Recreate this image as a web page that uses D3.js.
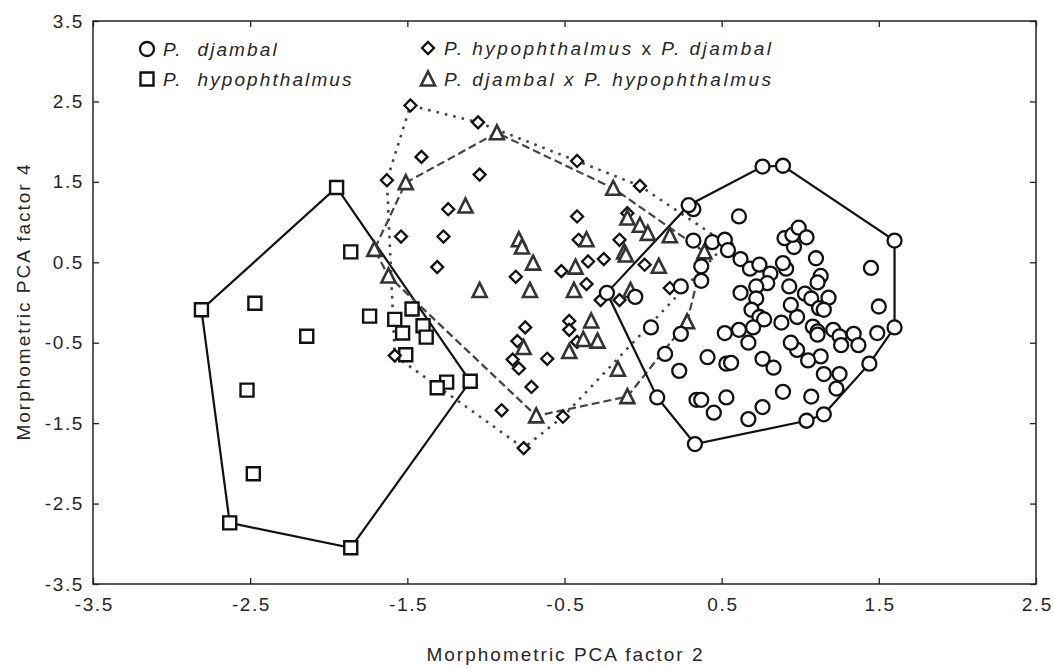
<!DOCTYPE html>
<html lang="en">
<head>
<meta charset="UTF-8">
<title>Morphometric PCA scatter</title>
<script src="https://d3js.org/d3.v7.min.js"></script>
<style>
    body { margin: 0; background: #fff; overflow: hidden; }
    svg { display: block; }
    text { font-family: "Liberation Sans", Arial, sans-serif; fill: #262626; }
</style>
</head>
<body>
<script>
    // Axis ticks
    const xTicks = [-3.5, -2.5, -1.5, -0.5, 0.5, 1.5, 2.5];
    const xTickLabels = ["-3.5", "-2.5", "-1.5", "-0.5", "0.5", "1.5", "2.5"];
    const yTicks = [-3.5, -2.5, -1.5, -0.5, 0.5, 1.5, 2.5, 3.5];
    const yTickLabels = ["-3.5", "-2.5", "-1.5", "-0.5", "0.5", "1.5", "2.5", "3.5"];

    // P. djambal (circles)
    const djambal = [
        [0.76, 1.69], [0.89, 1.70], [1.60, 0.77], [1.60, -0.31], [1.49, -0.38], [1.44, -0.76],
        [1.23, -1.07], [1.15, -1.39], [1.04, -1.47], [0.33, -1.76], [0.09, -1.18], [-0.23, 0.12],
        [0.32, 1.16], [0.29, 1.21], [0.61, 1.07], [0.32, 0.77], [0.44, 0.75], [0.52, 0.78],
        [0.54, 0.65], [0.62, 0.54], [0.68, 0.42], [0.74, 0.47], [0.81, 0.36], [0.79, 0.24],
        [0.72, 0.20], [0.62, 0.12], [0.72, 0.05], [0.69, -0.09], [0.74, -0.18], [0.77, -0.21],
        [0.70, -0.31], [0.61, -0.34], [0.52, -0.38], [0.67, -0.50], [0.37, 0.45], [0.37, 0.27],
        [0.24, -0.39], [0.14, -0.64], [0.23, -0.85], [0.05, -0.31], [-0.05, 0.07], [0.24, 0.20],
        [0.41, -0.68], [0.53, -0.76], [0.56, -0.75], [0.34, -1.21], [0.37, -1.21], [0.45, -1.37],
        [0.53, -1.18], [0.67, -1.45], [0.76, -1.30], [0.76, -0.70], [0.83, -0.81], [0.89, -1.11],
        [1.07, -1.17], [1.15, -0.89], [1.25, -0.89], [1.13, -0.67], [1.05, -0.72], [0.98, -0.59],
        [0.94, -0.50], [0.88, -0.25], [0.98, -0.18], [0.94, -0.03], [0.93, 0.20], [0.91, 0.42],
        [0.89, 0.49], [0.96, 0.69], [0.90, 0.80], [0.95, 0.84], [0.99, 0.93], [1.04, 0.81],
        [1.10, 0.55], [1.13, 0.33], [1.11, 0.25], [1.03, 0.11], [1.07, 0.05], [1.18, 0.06],
        [1.12, -0.07], [1.15, -0.09], [1.08, -0.30], [1.11, -0.36], [1.11, -0.40], [1.21, -0.34],
        [1.25, -0.42], [1.26, -0.53], [1.34, -0.39], [1.37, -0.53], [1.45, 0.43], [1.50, -0.05]
    ];

    // P. hypophthalmus (squares)
    const hypophthalmus = [
        [-2.81, -0.09], [-1.95, 1.43], [-1.10, -0.98], [-1.86, -3.05], [-2.63, -2.74],
        [-2.47, -0.01], [-2.52, -1.09], [-2.48, -2.13], [-2.14, -0.42], [-1.86, 0.63],
        [-1.74, -0.17], [-1.58, -0.21], [-1.47, -0.08], [-1.53, -0.38], [-1.40, -0.29],
        [-1.38, -0.43], [-1.51, -0.65], [-1.25, -0.99], [-1.31, -1.06]
    ];

    // P. hypophthalmus x P. djambal (diamonds)
    const hypoXdjambal = [
        [-1.48, 2.45], [-1.05, 2.24], [-0.42, 1.76], [-0.02, 1.45], [-1.41, 1.81], [-1.04, 1.59],
        [-1.63, 1.52], [-1.24, 1.16], [-1.54, 0.82], [-1.27, 0.82], [-1.31, 0.44], [-0.42, 1.07],
        [-0.10, 1.11], [-0.41, 0.78], [-0.15, 0.78], [-0.81, 0.32], [-0.52, 0.39], [-0.35, 0.51],
        [-0.25, 0.54], [-0.36, 0.23], [0.01, 0.47], [0.17, 0.18], [-0.15, 0.03], [-0.27, 0.03],
        [-0.75, -0.31], [-0.80, -0.48], [-0.47, -0.23], [-0.47, -0.34], [-0.42, -0.49], [-0.83, -0.71],
        [-0.79, -0.82], [-0.61, -0.70], [-0.71, -1.05], [-0.90, -1.34], [-0.51, -1.42], [-1.58, -0.66],
        [-0.76, -1.81], [0.53, 0.73]
    ];

    // P. djambal x P. hypophthalmus (triangles)
    const djambalXhypo = [
        [-0.93, 2.11], [-1.51, 1.49], [-1.13, 1.20], [-0.19, 1.42], [-1.71, 0.66], [-1.62, 0.33],
        [-0.79, 0.78], [-0.77, 0.69], [-0.70, 0.49], [-1.04, 0.15], [-0.72, 0.15], [-0.43, 0.44],
        [-0.44, 0.15], [-0.36, 0.78], [-0.10, 1.05], [-0.02, 0.96], [0.03, 0.86], [0.17, 0.83],
        [-0.12, 0.63], [-0.11, 0.59], [0.10, 0.45], [-0.08, 0.15], [-0.33, -0.23], [-0.38, -0.46],
        [-0.29, -0.48], [-0.76, -0.56], [-0.47, -0.61], [-0.16, -0.83], [-0.10, -1.17], [-0.68, -1.41],
        [0.28, -0.24], [0.39, 0.63]
    ];

    const width = 1054, height = 668;
    const margin = { top: 21, right: 18, bottom: 84, left: 93 };
    const innerWidth = width - margin.left - margin.right;
    const innerHeight = height - margin.top - margin.bottom;

    const svg = d3.select("body").append("svg")
        .attr("width", width)
        .attr("height", height);

    const g = svg.append("g")
        .attr("transform", `translate(${margin.left},${margin.top})`);

    const x = d3.scaleLinear().domain([-3.5, 2.5]).range([0, innerWidth]);
    const y = d3.scaleLinear().domain([-3.5, 3.5]).range([innerHeight, 0]);

    // centre a letter-spaced text by hand (start anchor, shifted by half its width)
    function centreText(sel, ls) {
        sel.each(function () {
            const w = this.getComputedTextLength() - ls;
            d3.select(this).attr("text-anchor", "start").attr("x", -w / 2);
        });
    }

    // axes with inward ticks
    const tickStyle = sel => {
        sel.select(".domain").remove();
        sel.selectAll(".tick line").attr("stroke", "#222").attr("stroke-width", 1.3);
        sel.selectAll(".tick text")
            .style("font-size", "19px")
            .style("letter-spacing", "1.6px")
            .attr("fill", "#262626");
    };

    const bottomAxis = g.append("g")
        .attr("transform", `translate(0,${innerHeight})`)
        .call(d3.axisBottom(x).tickValues(xTicks).tickSizeInner(-6).tickSizeOuter(0).tickPadding(14)
            .tickFormat((d, i) => xTickLabels[i]))
        .call(tickStyle);
    centreText(bottomAxis.selectAll(".tick text"), 1.6);

    const topAxis = g.append("g")
        .call(d3.axisTop(x).tickValues(xTicks).tickSizeInner(-6).tickSizeOuter(0))
        .call(tickStyle);
    topAxis.selectAll(".tick text").remove();

    g.append("g")
        .call(d3.axisLeft(y).tickValues(yTicks).tickSizeInner(-6).tickSizeOuter(0).tickPadding(9)
            .tickFormat((d, i) => yTickLabels[i]))
        .call(tickStyle);

    const rightAxis = g.append("g")
        .attr("transform", `translate(${innerWidth},0)`)
        .call(d3.axisRight(y).tickValues(yTicks).tickSizeInner(-6).tickSizeOuter(0))
        .call(tickStyle);
    rightAxis.selectAll(".tick text").remove();

    // frame
    g.append("rect")
        .attr("width", innerWidth)
        .attr("height", innerHeight)
        .attr("fill", "none")
        .attr("stroke", "#222")
        .attr("stroke-width", 1.5);

    // axis titles
    const xTitle = svg.append("text")
        .attr("transform", `translate(${margin.left + innerWidth / 2},661)`)
        .style("font-size", "19px")
        .style("letter-spacing", "2px")
        .text("Morphometric PCA factor 2");
    centreText(xTitle, 2);

    const yTitle = svg.append("text")
        .attr("transform", `translate(30,${margin.top + innerHeight / 2}) rotate(-90)`)
        .style("font-size", "19px")
        .style("letter-spacing", "2px")
        .text("Morphometric PCA factor 4");
    centreText(yTitle, 2);

    // marker shapes
    const shapes = {
        circle: "M7,0A7,7 0 1,1 -7,0A7,7 0 1,1 7,0Z",
        square: "M-6.5,-6.5H6.5V6.5H-6.5Z",
        diamond: "M0,-6L6,0L0,6L-6,0Z",
        triangle: "M0,-7.5L7,6.5L-7,6.5Z"
    };

    const groups = [
        { data: hypophthalmus, shape: "square", color: "#111", sw: 2.4, line: "#111", lw: 2.2, dash: null },
        { data: hypoXdjambal, shape: "diamond", color: "#111", sw: 2.3, line: "#444", lw: 2.6, dash: "2.6,6" },
        { data: djambalXhypo, shape: "triangle", color: "#333", sw: 2.6, line: "#444", lw: 2.2, dash: "8,4" },
        { data: djambal, shape: "circle", color: "#111", sw: 2.3, line: "#111", lw: 2.2, dash: null }
    ];

    groups.forEach(grp => {
        const pts = grp.data.map(d => [x(d[0]), y(d[1])]);
        const hull = d3.polygonHull(pts);
        g.append("path")
            .attr("d", "M" + hull.join("L") + "Z")
            .attr("fill", "none")
            .attr("stroke", grp.line)
            .attr("stroke-width", grp.lw)
            .attr("stroke-dasharray", grp.dash);
    });

    groups.forEach(grp => {
        g.append("g").selectAll("path")
            .data(grp.data)
            .enter().append("path")
            .attr("d", shapes[grp.shape])
            .attr("transform", d => `translate(${x(d[0])},${y(d[1])})`)
            .attr("fill", "#fff")
            .attr("stroke", grp.color)
            .attr("stroke-width", grp.sw);
    });

    // legend
    const legend = [
        { shape: "circle", color: "#111", sw: 2.3, px: 147, py: 49, ls: 2.1, parts: [["P.  djambal", true]] },
        { shape: "square", color: "#111", sw: 2.4, px: 147, py: 79, ls: 2.1, parts: [["P.  hypophthalmus", true]] },
        { shape: "diamond", color: "#111", sw: 2.3, px: 428, py: 48, ls: 2.5,
          parts: [["P. hypophthalmus", true], [" x ", false], ["P. djambal", true]] },
        { shape: "triangle", color: "#333", sw: 2.6, px: 428, py: 79, ls: 2.5,
          parts: [["P. djambal x P. hypophthalmus", true]] }
    ];

    legend.forEach(l => {
        svg.append("path")
            .attr("d", shapes[l.shape])
            .attr("transform", `translate(${l.px},${l.py})`)
            .attr("fill", "#fff")
            .attr("stroke", l.color)
            .attr("stroke-width", l.sw);
        const t = svg.append("text")
            .attr("x", l.px + 16)
            .attr("y", l.py + 7)
            .style("font-size", "19px")
            .style("letter-spacing", l.ls + "px")
            .style("white-space", "pre");
        l.parts.forEach(p => {
            t.append("tspan")
                .style("font-style", p[1] ? "italic" : "normal")
                .text(p[0]);
        });
    });
</script>
</body>
</html>
